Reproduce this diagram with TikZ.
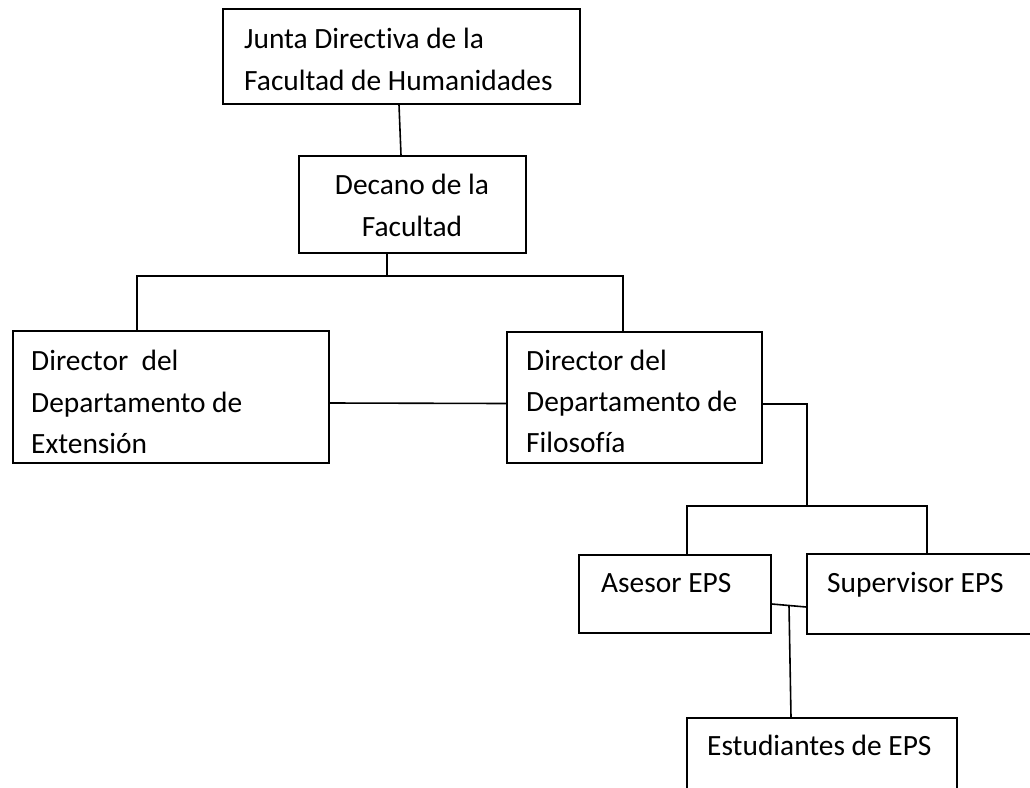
\documentclass[tikz,border=0pt]{standalone}
\usepackage{fontspec}
\setmainfont[Ligatures={NoCommon,NoContextual}]{Carlito}
\begin{document}
\begin{tikzpicture}[x=1pt,y=-1pt,
  box/.style={draw, line width=1.6pt, rectangle, inner sep=0pt},
  txt/.style={font=\fontsize{29.4}{35}\selectfont, inner sep=0pt, anchor=base west},
  ctxt/.style={txt, anchor=base},
  conn/.style={line width=1.6pt}]
\useasboundingbox[fill=white] (0,0) rectangle (1030,787);
% boxes
\node[box, minimum width=357pt, minimum height=95pt] (junta) at (401.5,56.5) {};
\node[box, minimum width=227pt, minimum height=97pt] (decano) at (412.5,204.5) {};
\node[box, minimum width=316pt, minimum height=132pt] (ext) at (171,397) {};
\node[box, minimum width=255pt, minimum height=131pt] (filo) at (634.5,397.5) {};
\node[box, minimum width=192pt, minimum height=78pt] (ases) at (675,594) {};
\node[box, minimum width=240pt, minimum height=80pt] (super) at (927,594) {};
\node[box, minimum width=270pt, minimum height=82pt] (estu) at (822,759) {};
% texts
\node[txt] (j1) at (244,48) {Junta Directiva de la};
\node[txt] (j2) at (244,90) {Facultad de Humanidades};
\node[ctxt] (d1) at (412,194) {Decano de la};
\node[ctxt] (d2) at (412,236) {Facultad};
\node[txt] (e1) at (31,370) {Director\ \ del};
\node[txt] (e2) at (31,412) {Departamento de};
\node[txt] (e3) at (31,453) {Extensión};
\node[txt] (f1) at (526,370) {Director del};
\node[txt] (f2) at (526,411) {Departamento de};
\node[txt] (f3) at (526,452) {Filosofía};
\node[txt] (a1) at (601,592) {Asesor EPS};
\node[txt] (s1) at (827,592) {Supervisor EPS};
\node[txt] (st1) at (707,755) {Estudiantes de EPS};
% connectors
\coordinate (bus) at (387,276);
\coordinate (bus2) at (807,506);
\coordinate (jn) at (789,605.5);
\draw[conn] ([xshift=-2.5pt]junta.south) -- ([xshift=-11.5pt]decano.north);
\draw[conn] ([xshift=-25.5pt]decano.south) -- (bus);
\draw[conn] ([xshift=-34pt]ext.north) |- (bus) -| ([xshift=-11.5pt]filo.north);
\draw[conn] ([yshift=-6pt]ext.east) -- ([yshift=-6pt]filo.west);
\draw[conn] ([yshift=-6.5pt]filo.east) -| (bus2);
\draw[conn] ([xshift=12pt]ases.north) |- (bus2) -| (super.north);
\draw[conn] ([yshift=-10pt]ases.east) -- ([yshift=-13pt]super.west);
\draw[conn] (jn) -- ([xshift=-31pt]estu.north);
\end{tikzpicture}
\end{document}
